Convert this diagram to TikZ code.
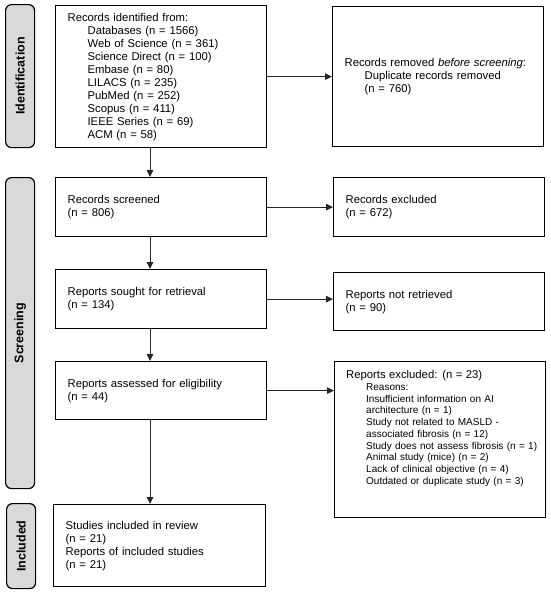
\documentclass[tikz,border=0pt]{standalone}
\usepackage{fontspec}
\setmainfont{Liberation Sans}
\usetikzlibrary{arrows.meta}
\definecolor{sidegray}{HTML}{D9D9D9}
\begin{document}
\begin{tikzpicture}[x=1pt,y=1pt,
 box/.style={draw=black, line width=1.2pt, rectangle, inner xsep=12pt, inner ysep=0pt, align=left, anchor=north west, font=\fontsize{11.3}{13}\selectfont},
 side/.style={draw=black, fill=sidegray, line width=1.2pt, rounded corners=6pt, anchor=north west, inner sep=0pt},
 sidetext/.style={rotate=90, inner sep=0pt, font=\bfseries\fontsize{12.5}{14}\selectfont},
 arr/.style={draw=black!85, line width=0.9pt, -{Triangle[length=7pt,width=6.5pt]}}
]
\useasboundingbox (0,0) rectangle (550,-592);

% side labels
\node[side, minimum width=29pt, minimum height=143pt] (s1) at (5,-4) {};
\node[sidetext] (s1t) at (s1.center) {Identification};
\node[side, minimum width=29pt, minimum height=311pt] (s2) at (5,-177) {};
\node[sidetext] (s2t) at (s2.center) {Screening};
\node[side, minimum width=29pt, minimum height=85pt] (s3) at (6,-503) {};
\node[sidetext] (s3t) at (s3.center) {Included};

% left column
\node[box, text width=187pt, minimum width=211pt, minimum height=142pt] (b1) at (55,-5) {Records identified from:\\
\hspace*{20pt}Databases (n = 1566)\\
\hspace*{20pt}Web of Science (n = 361)\\
\hspace*{20pt}Science Direct (n = 100)\\
\hspace*{20pt}Embase (n = 80)\\
\hspace*{20pt}LILACS (n = 235)\\
\hspace*{20pt}PubMed (n = 252)\\
\hspace*{20pt}Scopus (n = 411)\\
\hspace*{20pt}IEEE Series (n = 69)\\
\hspace*{20pt}ACM (n = 58)};
\node[box, text width=187pt, minimum width=211pt, minimum height=59pt] (b2) at (55,-177) {Records screened\\(n = 806)};
\node[box, text width=187pt, minimum width=211pt, minimum height=59pt] (b3) at (55,-269) {Reports sought for retrieval\\(n = 134)};
\node[box, text width=187pt, minimum width=211pt, minimum height=58pt] (b4) at (55,-361) {Reports assessed for eligibility\\(n = 44)};
\node[box, text width=188pt, minimum width=212pt, minimum height=82pt] (b5) at (53,-504) {Studies included in review\\(n = 21)\\Reports of included studies\\(n = 21)};

% right column
\node[box, text width=187pt, minimum width=211pt, minimum height=140pt] (r1) at (332,-6) {Records removed \textit{before screening}:\\
\hspace*{20pt}Duplicate records removed\\
\hspace*{20pt}(n = 760)};
\node[box, text width=187pt, minimum width=211pt, minimum height=59pt] (r2) at (333,-177) {Records excluded\\(n = 672)};
\node[box, text width=187pt, minimum width=211pt, minimum height=58pt] (r3) at (333,-272) {Reports not retrieved\\(n = 90)};
\node[box, minimum width=211pt, minimum height=156pt] (r4) at (334,-361) {};
\node[anchor=north west, inner sep=0pt, align=left, text width=195pt, font=\fontsize{10}{11.7}\selectfont] (r4t) at (346,-370.5) {{\fontsize{11.3}{12}\selectfont Reports excluded: (n = 23)}\\
\hspace*{20pt}Reasons:\\
\hspace*{20pt}Insufficient information on AI\\
\hspace*{20pt}architecture (n = 1)\\
\hspace*{20pt}Study not related to MASLD -\\
\hspace*{20pt}associated fibrosis (n = 12)\\
\hspace*{20pt}Study does not assess fibrosis (n = 1)\\
\hspace*{20pt}Animal study (mice) (n = 2)\\
\hspace*{20pt}Lack of clinical objective (n = 4)\\
\hspace*{20pt}Outdated or duplicate study (n = 3)};

% connectors
\coordinate (ax) at (150,0);
\draw[arr] (b1.south -| ax) -- (b2.north -| ax);
\draw[arr] (b2.south -| ax) -- (b3.north -| ax);
\draw[arr] (b3.south -| ax) -- (b4.north -| ax);
\draw[arr] (b4.south -| ax) -- (b5.north -| ax);
\draw[arr] (b1.east) -- (b1.east -| r1.west);
\draw[arr] (b2.east) -- (b2.east -| r2.west);
\draw[arr] (b3.east) -- (b3.east -| r3.west);
\draw[arr] (b4.east) -- (b4.east -| r4.west);
\end{tikzpicture}
\end{document}
